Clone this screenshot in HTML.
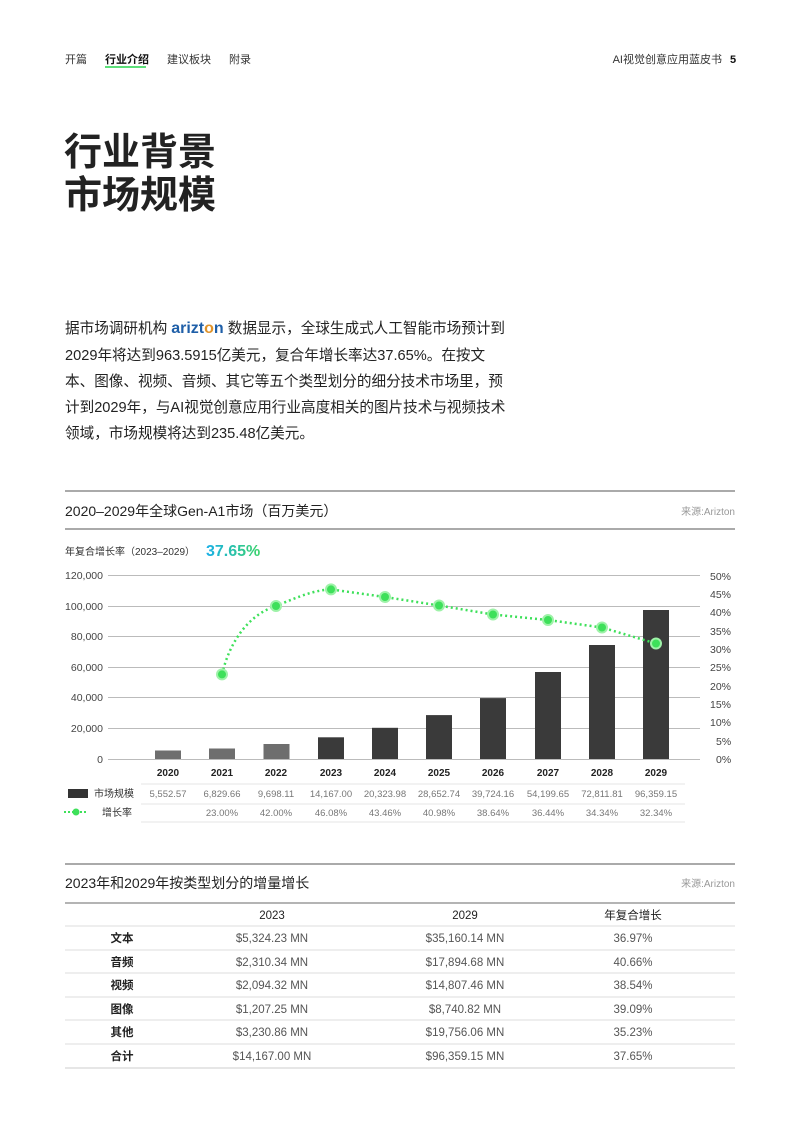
<!DOCTYPE html>
<html><head><meta charset="utf-8"><style>
html,body{margin:0;padding:0;background:#fff;}
svg{display:block;font-family:"Liberation Sans","Noto Sans CJK SC",sans-serif;}
</style></head><body>
<svg width="800" height="1132" viewBox="0 0 800 1132" xmlns="http://www.w3.org/2000/svg">
<defs>
<linearGradient id="g" x1="0" x2="1"><stop offset="0" stop-color="#1ab0e8"/><stop offset="1" stop-color="#3bd36a"/></linearGradient>
</defs>
<g font-size="11" fill="#333">
<text x="65" y="63">开篇</text>
<text x="105" y="63" font-weight="bold" fill="#111">行业介绍</text>
<rect x="105" y="66" width="41" height="2" fill="#5de07a"/>
<text x="167" y="63">建议板块</text>
<text x="229" y="63">附录</text>
<text x="722" y="63" text-anchor="end">AI视觉创意应用蓝皮书</text>
<text x="730" y="63" font-weight="bold" fill="#111">5</text>
</g>
<g font-size="38" font-weight="bold" fill="#222">
<text x="64" y="165">行业背景</text>
<text x="64" y="208">市场规模</text>
</g>
<g font-size="14.6" fill="#222">
<text x="65" y="333">据市场调研机构 <tspan font-weight="bold" fill="#1f5fa8" font-size="16">arizt</tspan><tspan font-weight="bold" fill="#e0932a" font-size="16">o</tspan><tspan font-weight="bold" fill="#1f5fa8" font-size="16">n</tspan> 数据显示，全球生成式人工智能市场预计到</text>
<text x="65" y="360">2029年将达到963.5915亿美元，复合年增长率达37.65%。在按文</text>
<text x="65" y="386">本、图像、视频、音频、其它等五个类型划分的细分技术市场里，预</text>
<text x="65" y="412">计到2029年，与AI视觉创意应用行业高度相关的图片技术与视频技术</text>
<text x="65" y="438">领域，市场规模将达到235.48亿美元。</text>
</g>
<line x1="65" y1="491" x2="735" y2="491" stroke="#555"/>
<text x="65" y="516" font-size="14" fill="#222">2020–2029年全球Gen-A1市场（百万美元）</text>
<text x="735" y="515" font-size="10" fill="#999" text-anchor="end">来源:Arizton</text>
<line x1="65" y1="529" x2="735" y2="529" stroke="#555"/>
<text x="65" y="555" font-size="10" fill="#333">年复合增长率（2023–2029）</text>
<text x="206" y="556" font-size="16" font-weight="bold" fill="url(#g)">37.65%</text>
<g stroke="#bbb">
<line x1="108" y1="575.5" x2="700" y2="575.5"/><line x1="108" y1="606.5" x2="700" y2="606.5"/>
<line x1="108" y1="636.5" x2="700" y2="636.5"/><line x1="108" y1="667.5" x2="700" y2="667.5"/>
<line x1="108" y1="697.5" x2="700" y2="697.5"/><line x1="108" y1="728.5" x2="700" y2="728.5"/>
<line x1="108" y1="759.5" x2="700" y2="759.5"/>
</g>
<g font-size="10.5" fill="#444" text-anchor="end">
<text x="103" y="579">120,000</text><text x="103" y="610">100,000</text><text x="103" y="640">80,000</text>
<text x="103" y="671">60,000</text><text x="103" y="701">40,000</text><text x="103" y="732">20,000</text><text x="103" y="763">0</text>
</g>
<g font-size="10.5" fill="#444">
<text x="710" y="580">50%</text><text x="710" y="598">45%</text><text x="710" y="616">40%</text><text x="710" y="635">35%</text>
<text x="710" y="653">30%</text><text x="710" y="671">25%</text><text x="710" y="690">20%</text><text x="710" y="708">15%</text>
<text x="710" y="726">10%</text><text x="716" y="745">5%</text><text x="716" y="763">0%</text>
</g>
<g>
<rect x="155" y="750.5" width="26" height="8.5" fill="#6e6e6e"/>
<rect x="209" y="748.5" width="26" height="10.5" fill="#6e6e6e"/>
<rect x="263.5" y="744" width="26" height="15" fill="#6e6e6e"/>
<rect x="318" y="737.3" width="26" height="21.7" fill="#3a3a3a"/>
<rect x="372" y="727.8" width="26" height="31.2" fill="#3a3a3a"/>
<rect x="426" y="715.1" width="26" height="43.9" fill="#3a3a3a"/>
<rect x="480" y="698.1" width="26" height="60.9" fill="#3a3a3a"/>
<rect x="535" y="672" width="26" height="87" fill="#3a3a3a"/>
<rect x="589" y="645" width="26" height="114" fill="#3a3a3a"/>
<rect x="643" y="610" width="26" height="149" fill="#3a3a3a"/>
</g>
<path d="M222,674.4 C230,640 250,614 276,606 C300,596 315,590 331,589.4 L385,597 L439,605.5 L493,614.5 L548,620 L602,627.5 L656,643.5" fill="none" stroke="#3ee05a" stroke-width="2.5" stroke-dasharray="2 3"/>
<g fill="#3ee05a" stroke="#9ef2a8" stroke-width="2">
<circle cx="222" cy="674.4" r="5"/><circle cx="276" cy="606" r="5"/><circle cx="331" cy="589.4" r="5"/>
<circle cx="385" cy="597" r="5"/><circle cx="439" cy="605.5" r="5"/><circle cx="493" cy="614.5" r="5"/>
<circle cx="548" cy="620" r="5"/><circle cx="602" cy="627.5" r="5"/><circle cx="656" cy="643.5" r="5"/>
</g>
<g font-size="10" font-weight="bold" fill="#222" text-anchor="middle">
<text x="168" y="776">2020</text><text x="222" y="776">2021</text><text x="276" y="776">2022</text><text x="331" y="776">2023</text>
<text x="385" y="776">2024</text><text x="439" y="776">2025</text><text x="493" y="776">2026</text><text x="548" y="776">2027</text>
<text x="602" y="776">2028</text><text x="656" y="776">2029</text>
</g>
<g stroke="#e4e4e4"><line x1="141" y1="784" x2="685" y2="784"/><line x1="141" y1="804" x2="685" y2="804"/><line x1="141" y1="822" x2="685" y2="822"/></g>
<rect x="68" y="789" width="20" height="9" fill="#333"/>
<text x="94" y="797" font-size="10" fill="#333">市场规模</text>
<line x1="64" y1="812" x2="88" y2="812" stroke="#3ee05a" stroke-width="2" stroke-dasharray="2 2"/>
<circle cx="76" cy="812" r="3.5" fill="#3ee05a"/>
<text x="102" y="816" font-size="10" fill="#333">增长率</text>
<g font-size="9.5" fill="#777" text-anchor="middle">
<text x="168" y="797">5,552.57</text><text x="222" y="797">6,829.66</text><text x="276" y="797">9,698.11</text><text x="331" y="797">14,167.00</text>
<text x="385" y="797">20,323.98</text><text x="439" y="797">28,652.74</text><text x="493" y="797">39,724.16</text><text x="548" y="797">54,199.65</text>
<text x="602" y="797">72,811.81</text><text x="656" y="797">96,359.15</text>
<text x="222" y="816">23.00%</text><text x="276" y="816">42.00%</text><text x="331" y="816">46.08%</text>
<text x="385" y="816">43.46%</text><text x="439" y="816">40.98%</text><text x="493" y="816">38.64%</text><text x="548" y="816">36.44%</text>
<text x="602" y="816">34.34%</text><text x="656" y="816">32.34%</text>
</g>
<line x1="65" y1="864" x2="735" y2="864" stroke="#555"/>
<text x="65" y="888" font-size="14" fill="#222">2023年和2029年按类型划分的增量增长</text>
<text x="735" y="887" font-size="10" fill="#999" text-anchor="end">来源:Arizton</text>
<line x1="65" y1="903" x2="735" y2="903" stroke="#888" stroke-width="1.2"/>
<g stroke="#ddd"><line x1="65" y1="926" x2="735" y2="926"/><line x1="65" y1="950" x2="735" y2="950"/><line x1="65" y1="973" x2="735" y2="973"/><line x1="65" y1="997" x2="735" y2="997"/><line x1="65" y1="1020" x2="735" y2="1020"/><line x1="65" y1="1044" x2="735" y2="1044"/><line x1="65" y1="1068" x2="735" y2="1068" stroke="#ccc"/></g>
<g font-size="11.5" fill="#222" text-anchor="middle">
<text x="272" y="919">2023</text><text x="465" y="919">2029</text><text x="633" y="919">年复合增长</text>
</g>
<g font-size="11.5" fill="#222" text-anchor="middle" font-weight="bold">
<text x="122" y="942">文本</text><text x="122" y="966">音频</text><text x="122" y="989">视频</text>
<text x="122" y="1013">图像</text><text x="122" y="1036">其他</text><text x="122" y="1060">合计</text>
</g>
<g font-size="11.5" fill="#555" text-anchor="middle">
<text x="272" y="942">$5,324.23 MN</text><text x="465" y="942">$35,160.14 MN</text><text x="633" y="942">36.97%</text>
<text x="272" y="966">$2,310.34 MN</text><text x="465" y="966">$17,894.68 MN</text><text x="633" y="966">40.66%</text>
<text x="272" y="989">$2,094.32 MN</text><text x="465" y="989">$14,807.46 MN</text><text x="633" y="989">38.54%</text>
<text x="272" y="1013">$1,207.25 MN</text><text x="465" y="1013">$8,740.82 MN</text><text x="633" y="1013">39.09%</text>
<text x="272" y="1036">$3,230.86 MN</text><text x="465" y="1036">$19,756.06 MN</text><text x="633" y="1036">35.23%</text>
<text x="272" y="1060">$14,167.00 MN</text><text x="465" y="1060">$96,359.15 MN</text><text x="633" y="1060">37.65%</text>
</g>
</svg>
</body></html>
